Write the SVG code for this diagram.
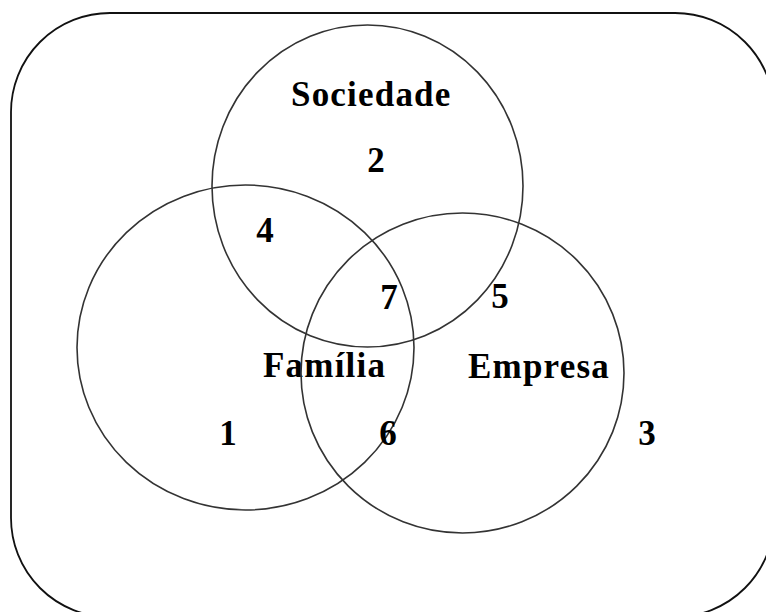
<svg xmlns="http://www.w3.org/2000/svg" width="766" height="612" viewBox="0 0 766 612">
<style>
.frame{fill:none;stroke:#111;stroke-width:1.8}
.set{fill:none;stroke:#333;stroke-width:1.6}
.lbl{font-family:"Liberation Serif","Times New Roman",serif;font-weight:bold;font-size:35px;fill:#000;letter-spacing:1.2px}
.num{font-family:"Liberation Serif","Times New Roman",serif;font-weight:bold;font-size:35px;fill:#000;text-anchor:middle}
</style>
<rect width="766" height="612" fill="#fff"/>
<g id="universe"><rect class="frame" x="11" y="13" width="763" height="604" rx="99" ry="99"/></g>
<g id="sociedade"><ellipse class="set" cx="367.5" cy="186" rx="155.5" ry="161"/><text class="lbl" x="291" y="106">Sociedade</text></g>
<g id="familia"><ellipse class="set" cx="245.5" cy="347.5" rx="168.5" ry="162.5"/><text class="lbl" x="263" y="377">Família</text></g>
<g id="empresa"><ellipse class="set" cx="462.5" cy="373" rx="161.5" ry="160"/><text class="lbl" x="468" y="378">Empresa</text></g>
<g id="regions">
<text class="num" x="228" y="445">1</text>
<text class="num" x="376" y="172">2</text>
<text class="num" x="647" y="445">3</text>
<text class="num" x="265" y="242">4</text>
<text class="num" x="500" y="308">5</text>
<text class="num" x="388" y="445">6</text>
<text class="num" x="389" y="309">7</text>
</g>
<g id="connectors"></g>
</svg>
